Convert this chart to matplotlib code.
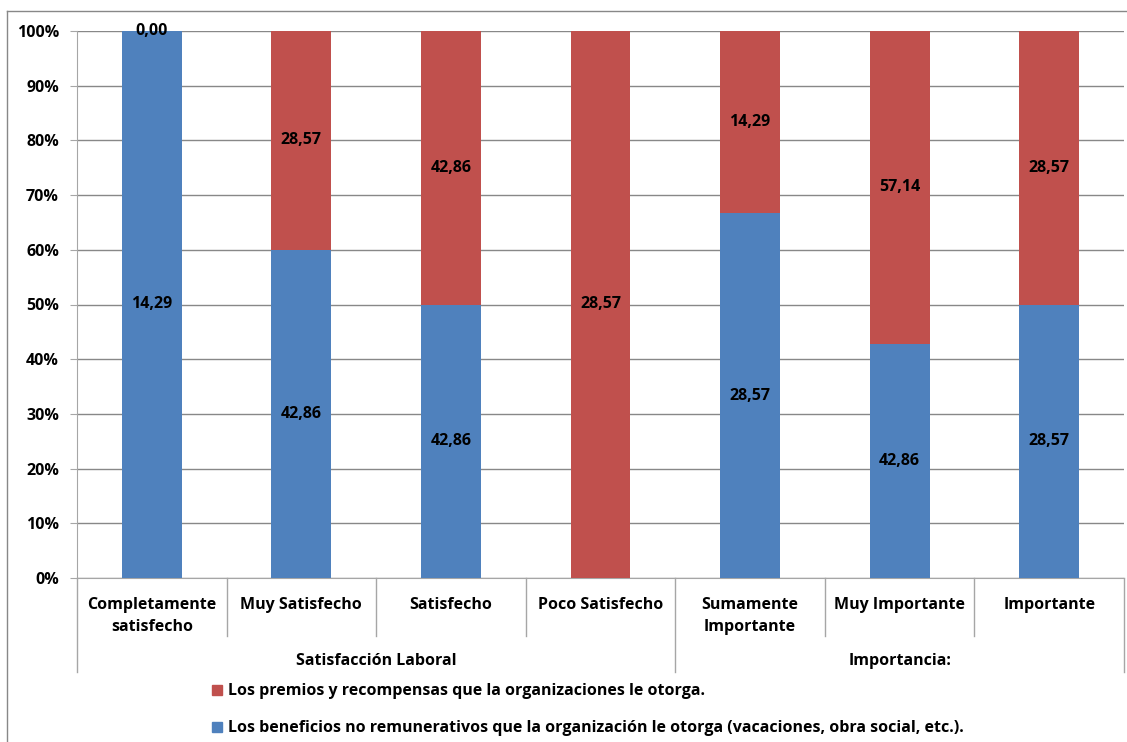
"""Stacked 100% bars: satisfaccion / importancia."""

import matplotlib
matplotlib.use('Agg')
import matplotlib.pyplot as plt
from matplotlib.lines import Line2D
from matplotlib.patches import Rectangle

# data
categorias = ['Completamente\nsatisfecho', 'Muy Satisfecho', 'Satisfecho', 'Poco Satisfecho',
              'Sumamente\nImportante', 'Muy Importante', 'Importante']
grupos = ['Satisfacción Laboral', 'Importancia:']
grupo_tam = [4, 3]
beneficios = [14.29, 42.86, 42.86, 0.0, 28.57, 42.86, 28.57]
premios = [0.0, 28.57, 42.86, 28.57, 14.29, 57.14, 28.57]
serie_premios = 'Los premios y recompensas que la organizaciones le otorga.'
serie_beneficios = 'Los beneficios no remunerativos que la organización le otorga (vacaciones, obra social, etc.).'

azul = '#4F81BD'
rojo = '#C0504D'
gris = '#A6A6A6'

plt.rcParams['font.family'] = ['Open Sans', 'DejaVu Sans']
plt.rcParams['font.weight'] = 'bold'

W, H = 1127, 742
fig = plt.figure(figsize=(W / 100, H / 100), dpi=100)
ax = fig.add_axes([77 / W, 1 - 578 / H, (1124 - 77) / W, (578 - 31) / H])

n = len(categorias)
x = list(range(n))
tot = [b + p for b, p in zip(beneficios, premios)]
pb = [100 * b / t for b, t in zip(beneficios, tot)]
pp = [100 * p / t for p, t in zip(premios, tot)]

ax.bar(x, pb, width=0.4, color=azul, zorder=3)
ax.bar(x, pp, width=0.4, bottom=pb, color=rojo, zorder=3)

fs = 11.5
for i in range(n):
    if beneficios[i] > 0:
        ax.text(x[i], pb[i] / 2, f'{beneficios[i]:.2f}'.replace('.', ','),
                ha='center', va='center', fontsize=fs, fontweight='bold', zorder=4)
    if premios[i] > 0 or beneficios[i] > 0:
        yy = pb[i] + pp[i] / 2
        ax.text(x[i], yy, f'{premios[i]:.2f}'.replace('.', ','),
                ha='center', va='center', fontsize=fs, fontweight='bold', zorder=4)

ax.set_xlim(-0.5, n - 0.5)
ax.set_ylim(0, 100)
ax.set_yticks(range(0, 101, 10))
ax.set_yticklabels([f'{v}%' for v in range(0, 101, 10)], fontsize=fs, fontweight='bold')
ax.tick_params(axis='y', length=5, color=gris, pad=8)
ax.set_xticks([])
ax.grid(axis='y', color='#888888', linewidth=1, zorder=0)
for s in ['top', 'right']:
    ax.spines[s].set_visible(False)
ax.spines['left'].set_color(gris)
ax.spines['bottom'].set_color(gris)

# category axis with two levels
ph = 578 - 31
lvl1 = -(636 - 578) / ph
lvl2 = -(672 - 578) / ph
tr = ax.get_xaxis_transform()
ax.plot([-0.5, -0.5], [0, lvl2], color=gris, lw=1, transform=tr, clip_on=False)
ax.plot([n - 0.5, n - 0.5], [0, lvl2], color=gris, lw=1, transform=tr, clip_on=False)
edge = -0.5
for g, k in zip(grupos, grupo_tam):
    for j in range(1, k):
        ax.plot([edge + j, edge + j], [0, lvl1], color=gris, lw=1, transform=tr, clip_on=False)
    if edge + k < n - 0.5:
        ax.plot([edge + k, edge + k], [0, lvl2], color=gris, lw=1, transform=tr, clip_on=False)
    ax.text(edge + k / 2, -(661 - 578) / ph, g, transform=tr, ha='center', va='center',
            fontsize=fs, fontweight='bold')
    edge += k
for i, c in enumerate(categorias):
    ax.text(x[i], -(597 - 578) / ph, c, transform=tr, ha='center', va='top',
            fontsize=fs, fontweight='bold', linespacing=1.5)

# legend
for yc, col, lab in [(691, rojo, serie_premios), (728, azul, serie_beneficios)]:
    fig.patches.append(Rectangle((212 / W, 1 - (yc + 4) / H), 10 / W, 10 / H,
                                 transform=fig.transFigure, color=col))
    fig.text(228 / W, 1 - yc / H, lab, ha='left', va='center', fontsize=fs, fontweight='bold')

# outer chart frame
fig.lines.append(Line2D([7 / W, 1], [1 - 11 / H, 1 - 11 / H], transform=fig.transFigure,
                        color='#888888', lw=1))
fig.lines.append(Line2D([7 / W, 7 / W], [0, 1 - 11 / H], transform=fig.transFigure,
                        color='#888888', lw=1))

fig.savefig('out.png', dpi=100)
